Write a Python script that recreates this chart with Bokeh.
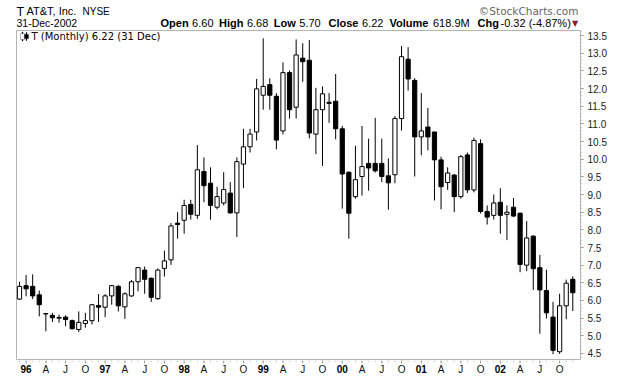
import pandas as pd
from bokeh.plotting import figure
from bokeh.layouts import column
from bokeh.models import (ColumnDataSource, Label, LabelSet, SingleIntervalTicker,
                          NumeralTickFormatter, BoxAnnotation, Range1d)
from bokeh.core.properties import value
from bokeh.embed import file_html
from bokeh.resources import INLINE

# ---------------- data (monthly candles, Dec 1995 .. Dec 2002) ----------------
months = pd.date_range("1995-12-01", periods=85, freq="MS")

opens = [6.04,
         6.42, 6.40, 6.16, 5.62, 5.58, 5.50, 5.53, 5.43, 5.18, 5.35, 5.43, 5.86,
         5.81, 6.13, 6.40, 5.82, 6.13, 6.53, 6.86, 6.63, 6.05, 6.91, 7.15, 8.19,
         8.27, 8.72, 8.41, 9.65, 9.32, 8.64, 8.76, 9.04, 8.48, 9.86, 10.35, 10.77,
         11.81, 12.11, 11.78, 10.80, 12.45, 11.47, 12.86, 12.80, 10.71, 11.40, 11.61, 11.64,
         10.86, 9.63, 8.94, 9.51, 9.88, 9.88, 9.88, 9.53, 9.56, 11.15, 12.83, 12.23,
         10.63, 10.91, 10.77, 9.98, 9.34, 9.55, 8.94, 10.12, 9.13, 10.44, 8.52, 8.41,
         8.78, 8.44, 8.64, 8.47, 7.00, 7.82, 6.93, 6.28, 5.53, 4.55, 5.85, 6.60]
highs = [6.53,
         6.72, 6.74, 6.28, 5.65, 5.65, 5.60, 5.58, 5.46, 5.69, 5.65, 5.90, 6.18,
         6.18, 6.44, 6.44, 6.23, 6.58, 6.94, 6.96, 6.65, 6.91, 7.41, 8.19, 8.50,
         8.85, 8.85, 10.40, 10.05, 9.77, 9.22, 9.63, 9.35, 10.05, 10.86, 10.86, 12.27,
         13.42, 12.29, 11.87, 12.74, 12.51, 13.39, 13.28, 13.37, 12.02, 12.06, 11.87, 12.41,
         10.94, 9.65, 10.38, 10.94, 10.58, 11.17, 10.58, 10.02, 11.22, 13.20, 13.17, 12.29,
         11.87, 11.45, 10.77, 10.07, 9.77, 9.58, 10.12, 10.19, 10.61, 10.56, 8.69, 9.00,
         9.18, 8.69, 8.90, 8.49, 8.25, 7.85, 7.29, 6.87, 5.96, 6.19, 6.59, 6.68]
lows = [6.02,
        6.12, 6.04, 5.55, 5.13, 5.39, 5.37, 5.27, 5.18, 5.11, 5.23, 5.32, 5.39,
        5.53, 5.88, 5.69, 5.48, 6.10, 6.26, 6.19, 5.96, 6.02, 6.68, 7.01, 7.75,
        7.89, 8.29, 8.31, 8.78, 8.29, 8.58, 8.69, 8.46, 7.80, 9.18, 10.19, 10.53,
        11.40, 11.40, 10.28, 10.70, 11.15, 11.15, 12.19, 10.59, 10.14, 9.81, 11.03, 10.56,
        8.60, 7.75, 8.88, 8.97, 9.11, 9.62, 9.35, 8.57, 9.32, 10.81, 11.94, 9.51,
        10.11, 10.25, 8.83, 8.58, 9.13, 8.50, 8.88, 9.04, 9.06, 8.46, 8.15, 8.29,
        7.89, 7.71, 8.36, 6.80, 6.83, 6.30, 5.06, 5.49, 4.48, 4.49, 5.47, 5.70]
closes = [6.40,
          6.33, 6.13, 5.88, 5.63, 5.51, 5.52, 5.46, 5.20, 5.38, 5.43, 5.88, 5.81,
          6.13, 6.42, 5.85, 6.19, 6.53, 6.93, 6.60, 6.09, 6.86, 7.12, 8.11, 8.15,
          8.69, 8.44, 9.70, 9.25, 8.69, 8.94, 9.14, 8.48, 9.93, 10.35, 10.71, 11.99,
          12.06, 11.81, 10.54, 12.45, 11.40, 12.95, 12.76, 10.74, 11.40, 11.85, 11.58, 10.86,
          9.58, 8.47, 9.42, 9.79, 9.75, 9.67, 9.51, 9.33, 11.15, 12.90, 12.27, 10.63,
          10.80, 10.63, 9.98, 9.22, 9.61, 8.94, 10.07, 9.13, 10.53, 8.52, 8.36, 8.76,
          8.41, 8.50, 8.39, 7.02, 7.77, 6.90, 6.30, 5.65, 4.59, 5.85, 6.49, 6.22]

year_labels = ["96", "97", "98", "99", "00", "01", "02"]
quarter_letters = {4: "A", 7: "J", 10: "O"}

# ---------------- sources ----------------
idx = list(range(len(opens)))
src = ColumnDataSource(dict(
    x=idx, high=highs, low=lows,
    top=[max(o, c) for o, c in zip(opens, closes)],
    bottom=[min(o, c) for o, c in zip(opens, closes)],
    fill=["white" if c >= o else "black" for o, c in zip(opens, closes)],
))

year_pos = [i for i, d in enumerate(months) if d.month == 1]
q_pos = [i for i, d in enumerate(months) if d.month in quarter_letters]
q_txt = [quarter_letters[months[i].month] for i in q_pos]
tick_pos = sorted(year_pos + q_pos)

W = 620
xr = Range1d(-0.455, 85.17)


def lab(fig, x, y, text, size="11px", bold=False, font="Liberation Sans", color="black",
        align="left", baseline="alphabetic", units="data"):
    fig.add_layout(Label(x=x, y=y, x_units=units, y_units=units, text=text,
                         text_font=font, text_font_size=size,
                         text_font_style="bold" if bold else "normal",
                         text_color=color, text_align=align, text_baseline=baseline))


# ---------------- header strip (pixel-like data coords, y down) ----------------
HH = 29
hdr = figure(width=W, height=HH, output_backend="svg", toolbar_location=None,
             x_range=Range1d(0, W), y_range=Range1d(HH, 0),
             x_axis_location=None, y_axis_location=None, frame_align=False,
             min_border_left=0, min_border_right=0, min_border_top=0, min_border_bottom=0)
hdr.outline_line_color = None
hdr.xgrid.visible = False
hdr.ygrid.visible = False

L1, L2 = 10.8, 22.8
lab(hdr, 16, 11.1, "T", size="12.5px")
lab(hdr, 26, L1, "AT&T, Inc.", size="11px")
lab(hdr, 82, L1, "NYSE", size="10px")
lab(hdr, 578, L1, "\u00a9StockCharts.com", size="10.5px", font="DejaVu Sans", color="#666666", align="right")

lab(hdr, 16, L2, "31-Dec-2002", size="10.5px")
lab(hdr, 160, L2, "Open", bold=True)
lab(hdr, 191.6, L2, "6.60")
lab(hdr, 218.5, L2, "High", bold=True)
lab(hdr, 246.4, L2, "6.68")
lab(hdr, 273.3, L2, "Low", bold=True)
lab(hdr, 298.8, L2, "5.70")
lab(hdr, 328, L2, "Close", bold=True)
lab(hdr, 361.5, L2, "6.22")
lab(hdr, 389, L2, "Volume", bold=True)
lab(hdr, 432.5, L2, "618.9M")
lab(hdr, 477, L2, "Chg", bold=True)
lab(hdr, 500, L2, "-0.32 (-4.87%)")
lab(hdr, 571.5, L2, "\u25bc", size="8px", font="DejaVu Sans", color="#8b1a2b")

# ---------------- main chart ----------------
F = 329  # frame height in px
p = figure(width=W, height=1 + F + 1, output_backend="svg", toolbar_location=None,
           x_range=xr, y_range=Range1d(4.330, 13.642),
           x_axis_location=None, y_axis_location="right", frame_align=False,
           min_border_left=16, min_border_right=40, min_border_top=1, min_border_bottom=1)
p.background_fill_color = "white"
p.border_fill_color = "white"
p.outline_line_color = "#b4b4b4"
p.xgrid.visible = False
p.ygrid.visible = False

p.segment(x0="x", y0="high", x1="x", y1="low", source=src, line_color="black", line_width=1)
p.vbar(x="x", width=0.64, top="top", bottom="bottom", source=src,
       fill_color="fill", line_color="black", line_width=1)

ya = p.yaxis[0]
ya.ticker = SingleIntervalTicker(interval=0.5, num_minor_ticks=5)
ya.formatter = NumeralTickFormatter(format="0.0")
ya.axis_line_color = None
ya.major_tick_in = 0
ya.major_tick_out = 3
ya.minor_tick_in = 0
ya.minor_tick_out = 1
ya.major_tick_line_color = "#999999"
ya.minor_tick_line_color = "#aaaaaa"
ya.major_label_standoff = 4
ya.major_label_text_font = "Liberation Sans"
ya.major_label_text_font_size = "10px"
ya.major_label_text_color = "#222222"

# legend inside the chart with a tiny candle icon (screen units, inside the frame)
for l, r, t, b, fc in [(5.5, 6.5, F - 1.5, F - 10.5, "black"), (9.5, 10.5, F - 2, F - 10, "black"),
                       (4, 8, F - 3, F - 9, "white"), (8, 12, F - 4, F - 8, "black")]:
    p.add_layout(BoxAnnotation(left=l, right=r, top=t, bottom=b,
                               left_units="screen", right_units="screen",
                               top_units="screen", bottom_units="screen",
                               fill_color=fc, fill_alpha=1, line_color="black", line_width=1))
lab(p, 15, F - 5.5, "T (Monthly) 6.22 (31 Dec)", size="10px", font="DejaVu Sans",
    baseline="middle", units="screen")

# ---------------- time axis strip: month ticks + labels ----------------
FH = 16
ftr = figure(width=W, height=FH, output_backend="svg", toolbar_location=None,
             x_range=xr, y_range=Range1d(FH, 0),
             x_axis_location=None, y_axis_location=None, frame_align=False,
             min_border_left=16, min_border_right=40, min_border_top=0, min_border_bottom=0)
ftr.outline_line_color = None
ftr.xgrid.visible = False
ftr.ygrid.visible = False
ftr.segment(x0=idx, y0=[0] * len(idx), x1=idx, y1=[1.2] * len(idx), line_color="#aaaaaa", line_width=1)
ftr.segment(x0=tick_pos, y0=[0] * len(tick_pos), x1=tick_pos, y1=[3] * len(tick_pos),
            line_color="#999999", line_width=1)
ys = ColumnDataSource(dict(x=year_pos, y=[8.5] * len(year_pos), t=year_labels))
ftr.add_layout(LabelSet(x="x", y="y", text="t", source=ys,
                        text_align="center", text_baseline="middle",
                        text_font=value("Liberation Sans"), text_font_style="bold",
                        text_font_size="10px", text_color="black"))
qs = ColumnDataSource(dict(x=q_pos, y=[8.5] * len(q_pos), t=q_txt))
ftr.add_layout(LabelSet(x="x", y="y", text="t", source=qs,
                        text_align="center", text_baseline="middle",
                        text_font=value("Liberation Sans"),
                        text_font_size="10px", text_color="#111111"))

page = column(hdr, p, ftr, spacing=0)
open("out.html", "w").write(file_html(page, INLINE))
